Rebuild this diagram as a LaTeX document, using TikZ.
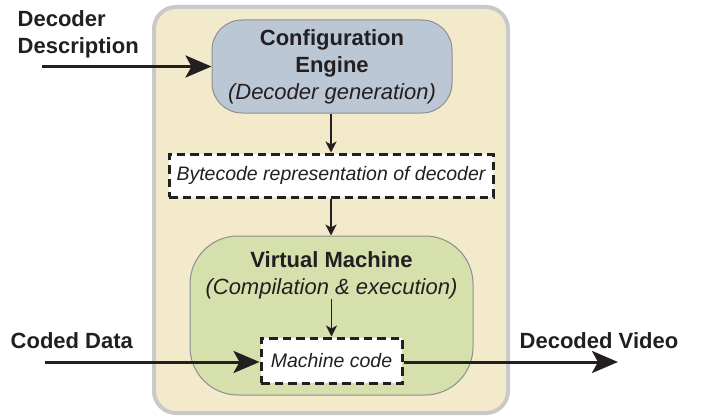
\documentclass[tikz,border=0pt]{standalone}
\usepackage{fontspec}
\setmainfont{Liberation Sans}
\usetikzlibrary{arrows.meta}
\definecolor{inkblack}{HTML}{231F20}
\definecolor{creambg}{HTML}{F2EACB}
\definecolor{panelgray}{HTML}{C9C9C9}
\definecolor{engineblue}{HTML}{BCC7D6}
\definecolor{vmgreen}{HTML}{D5E0AC}
\definecolor{edgegray}{HTML}{8E8E8E}
\begin{document}
\begin{tikzpicture}[x=1pt,y=-1pt,
  every node/.style={text=inkblack},
  bigfont/.style={font=\fontsize{22}{27}\selectfont\bfseries},
  smallfont/.style={font=\fontsize{19.5}{23}\selectfont\itshape},
  unit/.style={draw=edgegray,line width=1pt,align=center,inner sep=0pt},
  dashbox/.style={draw=inkblack,fill=white,line width=3pt,dash pattern=on 8.5pt off 5pt,inner sep=0pt,smallfont},
  bigarrow/.style={draw=inkblack,line width=3pt,-{Stealth[length=26pt,width=22pt,inset=6pt]}},
  thinarrow/.style={draw=inkblack,line width=1.8pt,-{Stealth[length=11pt,width=11pt,inset=3pt]}}]
  \useasboundingbox (0,0) rectangle (704,420);
  % outer panel
  \draw[draw=panelgray,fill=creambg,line width=4pt,rounded corners=22pt] (154,7) rectangle (508,413);

  \node[unit,fill=engineblue,rounded corners=30pt,minimum width=240pt,minimum height=93pt,bigfont]
    (engine) at (332,66.5) {Configuration\\Engine\\{\normalfont\itshape (Decoder generation)}};
  \node[dashbox,minimum width=324pt,minimum height=43pt] (bytecode) at (331,175.5) {Bytecode representation of decoder};
  \node[unit,fill=vmgreen,rounded corners=48pt,minimum width=283pt,minimum height=159pt] (vm) at (331.5,315.5) {};
  \node[bigfont,align=center,inner sep=0pt,anchor=north] (vmtext) at (331.5,251) {Virtual Machine\\{\normalfont\itshape (Compilation \& execution)}};
  \node[dashbox,minimum width=141pt,minimum height=45pt] (code) at (331.5,360.5) {Machine code};

  % outside labels
  \node[bigfont,align=left,inner sep=0pt,anchor=west] (desc) at (17.5,34.5) {Decoder\\Description};
  \node[bigfont,inner sep=0pt,anchor=base west] (coded) at (10.5,348) {Coded Data};
  \node[bigfont,inner sep=0pt,anchor=base west] (video) at (519.5,348) {Decoded Video};

  \coordinate (descin) at (42,66.5);
  \coordinate (codedin) at (45,362);
  \coordinate (videoout) at (618,362);

  \draw[bigarrow] (descin) -- (engine.west);
  \draw[bigarrow] (codedin) -- (codedin -| code.west);
  \draw[bigarrow] (code.east |- videoout) -- (videoout);

  \draw[thinarrow] (engine.south -| bytecode.north) -- (bytecode.north);
  \draw[thinarrow] (bytecode.south) -- (bytecode.south |- vm.north);
  \draw[thinarrow] (vmtext.south -| code.north) -- (code.north);
\end{tikzpicture}
\end{document}
